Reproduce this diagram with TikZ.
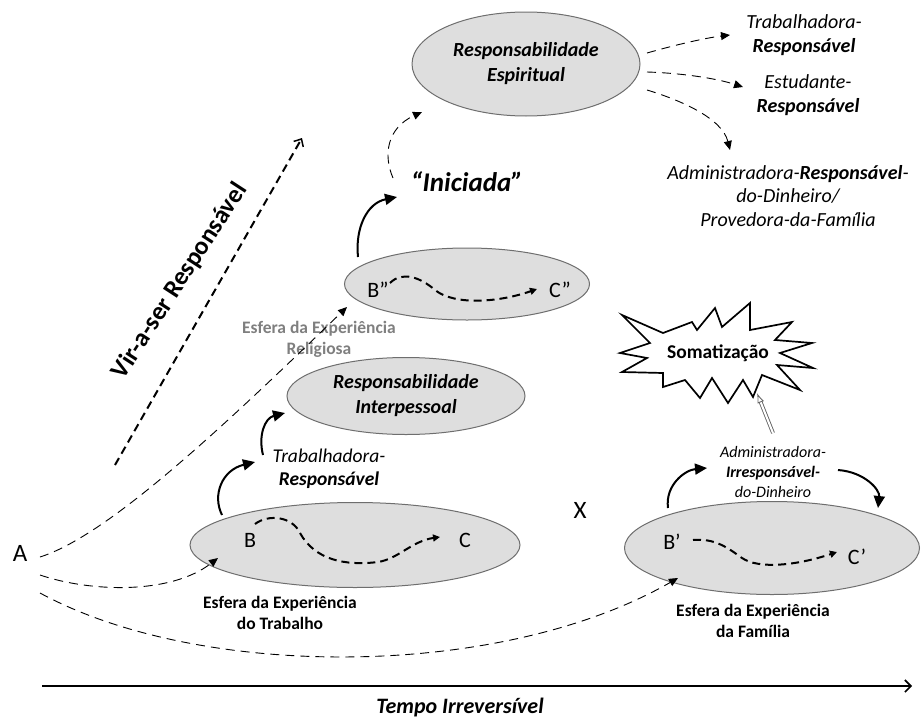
\documentclass[tikz,border=0pt]{standalone}
\usepackage{fontspec}
\setmainfont{Carlito}
\usetikzlibrary{arrows.meta,shapes.geometric}
\definecolor{ellfill}{HTML}{DEDEDE}
\definecolor{ellline}{HTML}{6E6E6E}
\definecolor{relgray}{HTML}{7F7F7F}
\begin{document}
\begin{tikzpicture}[x=1pt,y=-1pt,
  ell/.style={ellipse, draw=ellline, fill=ellfill, line width=1pt, inner sep=0pt, align=center,
    font=\fontsize{20}{25}\selectfont\bfseries\itshape},
  rtxt/.style={align=center, inner sep=1pt, font=\fontsize{20}{23.5}\selectfont\itshape},
  letter/.style={inner sep=1pt, font=\fontsize{22}{24}\selectfont},
  bigletter/.style={inner sep=1pt, font=\fontsize{25}{27}\selectfont},
  sphere/.style={align=center, inner sep=1pt, font=\fontsize{17.5}{21}\selectfont\bfseries},
  thindash/.style={line width=0.9pt, dash pattern=on 9pt off 6pt, -{Triangle[length=9pt,width=8pt]}},
  wave/.style={line width=2pt, dash pattern=on 8pt off 5pt, -{Triangle[length=7pt,width=7pt]}},
  solidarr/.style={line width=2pt, -{Triangle[length=12pt,width=11pt]}},
]
\useasboundingbox (0,0) rectangle (921,720);

% ---------- ellipses ----------
\node[ell, minimum width=228pt, minimum height=104pt] (spirit) at (526,64) {Responsabilidade\\Espiritual};
\node[ell, minimum width=245pt, minimum height=72pt] (bpp) at (467,284) {};
\node[ell, minimum width=238pt, minimum height=77pt] (inter) at (406,396) {Responsabilidade\\Interpessoal};
\node[ell, minimum width=330pt, minimum height=85pt] (work) at (355,545) {};
\node[ell, minimum width=295pt, minimum height=93pt] (fam) at (772,548) {};

% ---------- right texts ----------
\node[rtxt] (tr1) at (804,35) {Trabalhadora-\\\textbf{Responsável}};
\node[rtxt] (est) at (808,95) {Estudante-\\\textbf{Responsável}};
\node[rtxt] (adm) at (788,196) {Administradora-\textbf{Responsável}-\\do-Dinheiro/\\Provedora-da-Família};

\node[inner sep=1pt, font=\fontsize{27}{29}\selectfont\bfseries\itshape] (ini) at (467,182) {“Iniciada”};

% ---------- letters ----------
\node[bigletter] (A) at (20,553) {A};
\node[bigletter] (X) at (580,510) {X};
\node[letter] (Bpp) at (378,290) {B”};
\node[letter] (Cpp) at (560,290) {C”};
\node[letter] (B) at (250,540) {B};
\node[letter] (C) at (465,540) {C};
\node[letter] (Bp) at (672,542) {B’};
\node[letter] (Cp) at (857,557) {C’};

% ---------- labels ----------
\node[sphere, text=relgray] (rel) at (319,339) {Esfera da Experiência\\Religiosa};
\node[sphere] (wlab) at (280,613) {Esfera da Experiência\\do Trabalho};
\node[sphere] (flab) at (753,621) {Esfera da Experiência\\da Família};
\node[align=center, inner sep=1pt, font=\fontsize{19.5}{23}\selectfont\itshape] (trb) at (329,469) {Trabalhadora-\\\textbf{Responsável}};
\node[align=center, inner sep=1pt, font=\fontsize{16}{20}\selectfont\itshape] (adm2) at (773,472) {Administradora-\\\textbf{Irresponsável-}\\do-Dinheiro};
\node[rotate=57, inner sep=1pt, font=\fontsize{25.5}{27}\selectfont\bfseries] (vir) at (180,281) {Vir-a-ser Responsável};
\node[inner sep=1pt, font=\fontsize{22}{24}\selectfont\bfseries\itshape] (tempo) at (460,708) {Tempo Irreversível};

% ---------- starburst ----------
\draw[line width=1.7pt, fill=white, line join=miter]
  (622,315) -- (663,333) -- (692,322) -- (697,330) -- (715,308) -- (722,327) -- (750,303) --
  (750,330) -- (792,322) -- (775,340) -- (812,343) -- (780,353) -- (813,368) -- (777,365) --
  (800,390) -- (762,375) -- (753,397) -- (743,380) -- (728,403) -- (712,378) -- (700,398) --
  (685,380) -- (663,387) -- (663,373) -- (622,372) -- (647,358) -- (620,353) -- (650,343) -- cycle;
\node[inner sep=1pt, font=\fontsize{19.5}{22}\selectfont\bfseries] (soma) at (718,353) {Somatização};

% ---------- connectors from spiritual ----------
\draw[thindash] ([shift={(121,-11)}]spirit.center) .. controls (675,45) and (705,38) .. ([shift={(-74,0)}]tr1.center);
\draw[thindash] ([shift={(121,8)}]spirit.center) .. controls (680,73) and (715,78) .. ([shift={(-65,-8)}]est.center);
\draw[thindash] ([shift={(121,26)}]spirit.center) .. controls (680,100) and (722,118) .. ([shift={(-58,-46)}]adm.center);
\draw[thindash] ([shift={(-74,-4)}]ini.center) .. controls (383,155) and (387,128) .. ([shift={(-104,48)}]spirit.center);
\draw[solidarr] ([shift={(-109,-27)}]bpp.center) .. controls (355,228) and (367,203) .. ([shift={(-70,15)}]ini.center);

% ---------- waves ----------
\draw[wave] ([shift={(-77,-1)}]bpp.center) .. controls (402,271) and (420,277) .. (435,290) .. controls (455,306) and (500,302) .. ([shift={(70,5)}]bpp.center);
\draw[wave] ([shift={(-100,-21)}]work.center) .. controls (268,514) and (292,516) .. (300,533) .. controls (315,560) and (345,566) .. (378,562) .. controls (398,559) and (412,541) .. ([shift={(85,-8)}]work.center);
\draw[wave] ([shift={(-79,-8)}]fam.center) .. controls (715,538) and (728,548) .. (742,558) .. controls (758,569) and (795,566) .. ([shift={(65,4)}]fam.center);

% ---------- from A ----------
\draw[thindash] ([shift={(20,4)}]A.center) .. controls (110,535) and (230,420) .. ([shift={(-120,23)}]bpp.center);
\draw[thindash] ([shift={(20,22)}]A.center) .. controls (90,592) and (170,595) .. ([shift={(-137,13)}]work.center);
\draw[thindash] ([shift={(20,40)}]A.center) .. controls (200,680) and (500,680) .. ([shift={(-94,30)}]fam.center);

% ---------- solid arrows ----------
\draw[solidarr] ([shift={(-133,-30)}]work.center) .. controls (212,495) and (222,470) .. ([shift={(-74,-7)}]trb.center);
\draw[solidarr] ([shift={(-66,-14)}]trb.center) .. controls (258,435) and (265,418) .. ([shift={(-121,17)}]inter.center);
\draw[solidarr] ([shift={(-104,-40)}]fam.center) .. controls (665,485) and (685,470) .. ([shift={(-66,-4)}]adm2.center);
\draw[solidarr] ([shift={(65,-2)}]adm2.center) .. controls (865,472) and (880,490) .. ([shift={(106,-40)}]fam.center);

% ---------- double arrow to somatizacao ----------
\draw[black!60, line width=0.9pt, double=white, double distance=2pt, -{Latex[open, length=10pt, width=7pt]}]
  ([shift={(0,-39)}]adm2.center) -- ([shift={(39,40)}]soma.center);

% ---------- vir-a-ser ----------
\coordinate (v0) at (115,465);
\coordinate (v1) at (302,138);
\draw[line width=2pt, dash pattern=on 8pt off 5pt, -{Straight Barb[length=6pt,width=11pt,line width=1.5pt]}] (v0) -- (v1);

% ---------- time axis ----------
\coordinate (t0) at (42,686);
\coordinate (t1) at (912,686);
\draw[line width=2pt, -{Straight Barb[length=6pt,width=12pt,line width=1.6pt]}] (t0) -- (t1);
\end{tikzpicture}
\end{document}
